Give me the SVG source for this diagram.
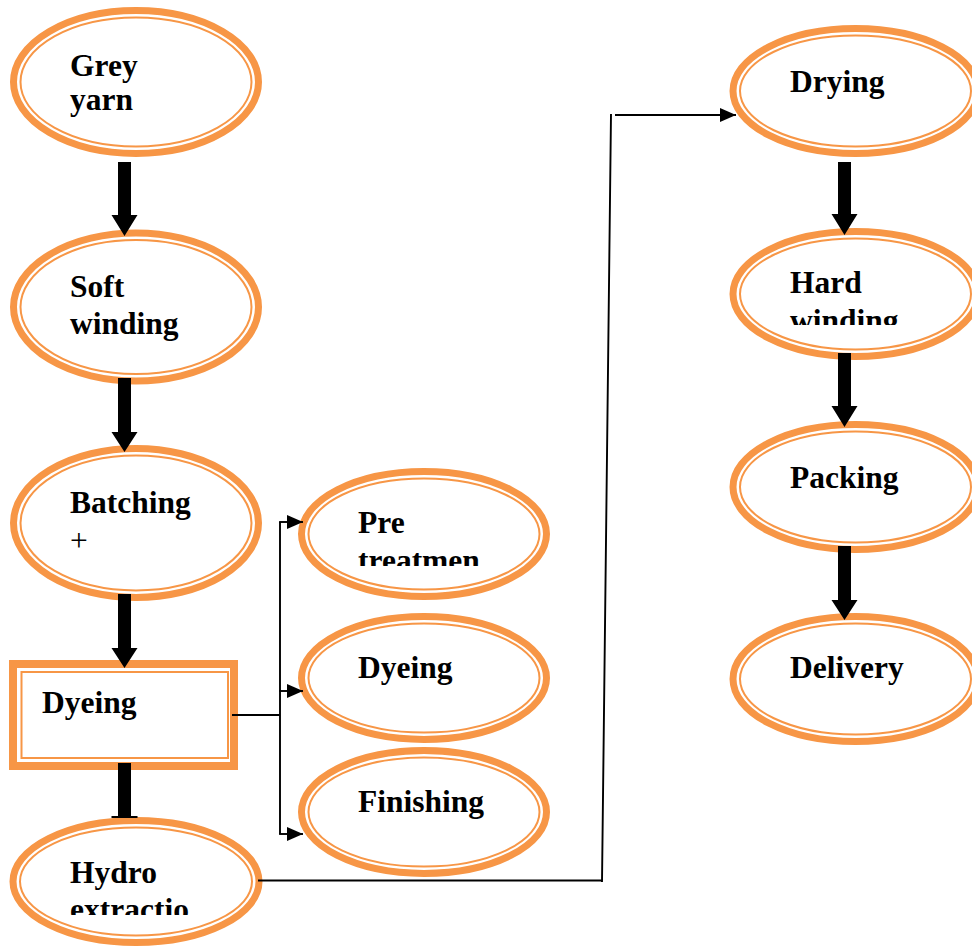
<svg xmlns="http://www.w3.org/2000/svg" width="972" height="948" viewBox="0 0 972 948">
  <style>
    .thick { fill: #ffffff; stroke: #F79646; stroke-width: 7; }
    .thin { fill: none; stroke: #F79646; stroke-width: 2; }
    .lbl { font-family: "Liberation Serif", "Times New Roman", serif; font-weight: bold; font-size: 31.5px; fill: #000000; }
    .plain { font-family: "Liberation Serif", "Times New Roman", serif; font-size: 31.5px; fill: #000000; }
    .line { fill: none; stroke: #000000; stroke-width: 1.9; }
    .block { fill: #000000; }
  </style>
  <defs>
    <marker id="tip" markerUnits="userSpaceOnUse" markerWidth="16" markerHeight="14" refX="16" refY="7" orient="auto">
      <path d="M0,0 L16,7 L0,14 Z" fill="#000000"/>
    </marker>
    <!-- text boxes cut off the second line of some labels -->
    <clipPath id="clipPre"><rect x="340" y="490" width="200" height="76"/></clipPath>
    <clipPath id="clipHard"><rect x="770" y="250" width="200" height="75"/></clipPath>
    <clipPath id="clipHydro"><rect x="50" y="840" width="200" height="75"/></clipPath>
  </defs>

  <!-- left column -->
  <g id="grey-yarn">
    <ellipse class="thick" cx="136" cy="82" rx="122.5" ry="71.5"/>
    <ellipse class="thin" cx="136" cy="82" rx="115.5" ry="64.5"/>
    <text class="lbl" x="70" y="76">Grey</text>
    <text class="lbl" x="70" y="110">yarn</text>
  </g>
  <g id="soft-winding">
    <ellipse class="thick" cx="136" cy="307" rx="122.5" ry="74"/>
    <ellipse class="thin" cx="136" cy="307" rx="115.5" ry="67"/>
    <text class="lbl" x="70" y="297">Soft</text>
    <text class="lbl" x="70" y="334">winding</text>
  </g>
  <g id="batching">
    <ellipse class="thick" cx="136" cy="523" rx="122.5" ry="74.5"/>
    <ellipse class="thin" cx="136" cy="523" rx="115.5" ry="67.5"/>
    <text class="lbl" x="70" y="513">Batching</text>
    <text class="plain" x="70" y="551">+</text>
  </g>
  <g id="dyeing-box">
    <rect x="13" y="664" width="221" height="102" fill="#ffffff" stroke="#F79646" stroke-width="8"/>
    <rect x="21.5" y="672" width="206.5" height="86" class="thin"/>
    <text class="lbl" x="42" y="713">Dyeing</text>
  </g>
  <g id="hydro-extraction">
    <ellipse class="thick" cx="136" cy="881.5" rx="123" ry="61"/>
    <ellipse class="thin" cx="136" cy="881.5" rx="116" ry="54"/>
    <g clip-path="url(#clipHydro)">
      <text class="lbl" x="70" y="883">Hydro</text>
      <text class="lbl" x="70" y="920">extractio</text>
    </g>
  </g>

  <!-- middle column -->
  <g id="pre-treatment">
    <ellipse class="thick" cx="424" cy="534" rx="122.5" ry="62.5"/>
    <ellipse class="thin" cx="424" cy="534" rx="115.5" ry="55.5"/>
    <g clip-path="url(#clipPre)">
      <text class="lbl" x="358" y="533">Pre</text>
      <text class="lbl" x="358" y="571">treatmen</text>
    </g>
  </g>
  <g id="dyeing">
    <ellipse class="thick" cx="424" cy="678" rx="122.5" ry="61.5"/>
    <ellipse class="thin" cx="424" cy="678" rx="115.5" ry="54.5"/>
    <text class="lbl" x="358" y="678">Dyeing</text>
  </g>
  <g id="finishing">
    <ellipse class="thick" cx="424" cy="812" rx="122.5" ry="61.5"/>
    <ellipse class="thin" cx="424" cy="812" rx="115.5" ry="54.5"/>
    <text class="lbl" x="358" y="812">Finishing</text>
  </g>

  <!-- right column -->
  <g id="drying">
    <ellipse class="thick" cx="855.5" cy="91" rx="122.5" ry="62.5"/>
    <ellipse class="thin" cx="855.5" cy="91" rx="115.5" ry="55.5"/>
    <text class="lbl" x="790" y="92">Drying</text>
  </g>
  <g id="hard-winding">
    <ellipse class="thick" cx="855.5" cy="294" rx="122.5" ry="62.5"/>
    <ellipse class="thin" cx="855.5" cy="294" rx="115.5" ry="55.5"/>
    <g clip-path="url(#clipHard)">
      <text class="lbl" x="790" y="293">Hard</text>
      <text class="lbl" x="790" y="331">winding</text>
    </g>
  </g>
  <g id="packing">
    <ellipse class="thick" cx="855.5" cy="487" rx="122.5" ry="62.5"/>
    <ellipse class="thin" cx="855.5" cy="487" rx="115.5" ry="55.5"/>
    <text class="lbl" x="790" y="488">Packing</text>
  </g>
  <g id="delivery">
    <ellipse class="thick" cx="855.5" cy="679" rx="122.5" ry="62.5"/>
    <ellipse class="thin" cx="855.5" cy="679" rx="115.5" ry="55.5"/>
    <text class="lbl" x="790" y="678">Delivery</text>
  </g>

  <!-- connectors -->
  <g id="connectors">
    <!-- block arrows, left column -->
    <path class="block" d="M118,162 H131 V215 H137.5 L124.5,236 L111.5,215 H118 Z"/>
    <path class="block" d="M118,378 H131 V432 H137.5 L124.5,452 L111.5,432 H118 Z"/>
    <path class="block" d="M118,594 H131 V648 H137.5 L124.5,668 L111.5,648 H118 Z"/>
    <path class="block" d="M118,763 H131 V816 H137.5 V818 H111.5 V816 H118 Z"/>
    <!-- block arrows, right column -->
    <path class="block" d="M838,162 H851 V214 H857.5 L844.5,235 L831.5,214 H838 Z"/>
    <path class="block" d="M838,353 H851 V406 H857.5 L844.5,427 L831.5,406 H838 Z"/>
    <path class="block" d="M838,546 H851 V600 H857.5 L844.5,620 L831.5,600 H838 Z"/>
    <!-- dyeing branches -->
    <path class="line" d="M232,715 H280 M280,522 V834"/>
    <line class="line" x1="279.1" y1="522" x2="303" y2="522" marker-end="url(#tip)"/>
    <line class="line" x1="279.1" y1="691" x2="303" y2="691" marker-end="url(#tip)"/>
    <line class="line" x1="279.1" y1="834" x2="303" y2="834" marker-end="url(#tip)"/>
    <!-- hydro extraction to drying -->
    <path class="line" d="M258,880.5 H602 M602,882 L611,114"/>
    <line class="line" x1="615" y1="115" x2="736" y2="115" marker-end="url(#tip)"/>
  </g>
</svg>
